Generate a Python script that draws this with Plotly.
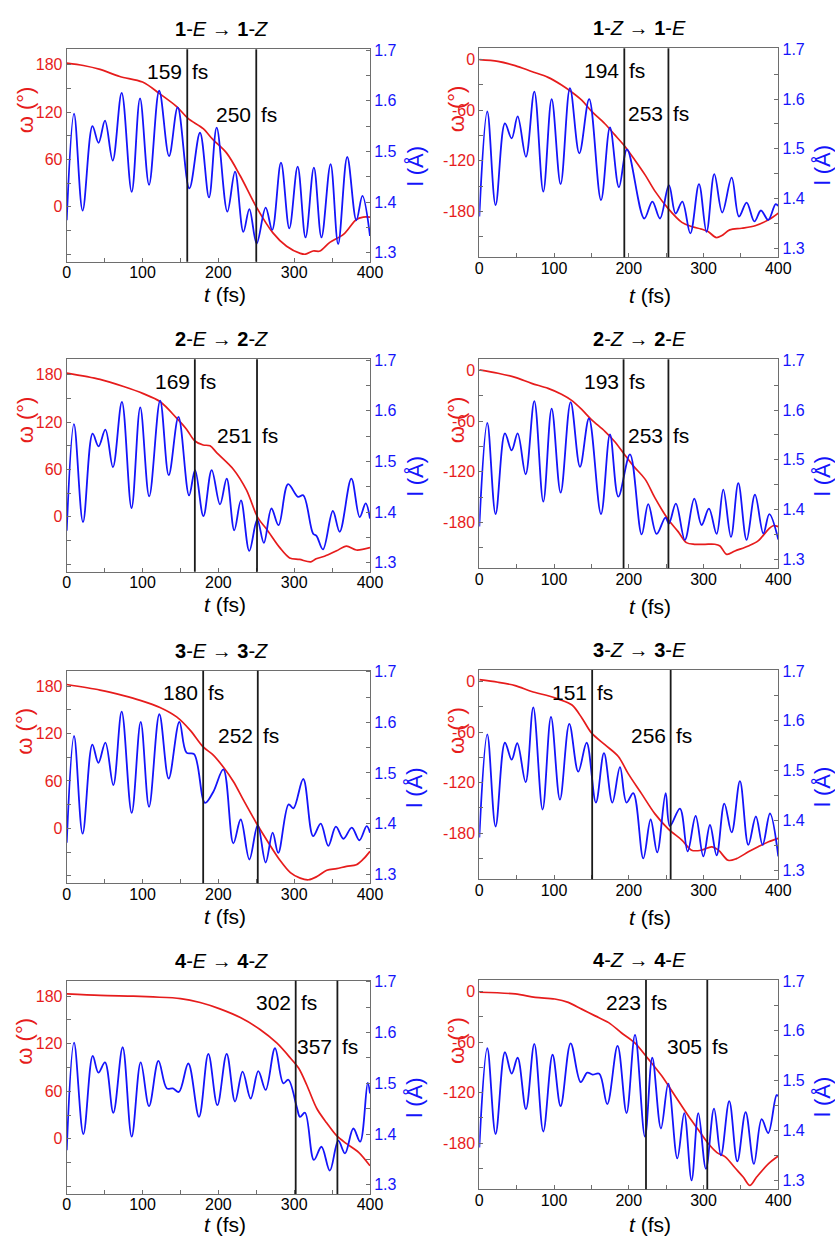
import plotly.graph_objects as go

# ---------------- data ----------------
titles = [
    "<b>1</b>-<i>E</i> → <b>1</b>-<i>Z</i>", "<b>1</b>-<i>Z</i> → <b>1</b>-<i>E</i>",
    "<b>2</b>-<i>E</i> → <b>2</b>-<i>Z</i>", "<b>2</b>-<i>Z</i> → <b>2</b>-<i>E</i>",
    "<b>3</b>-<i>E</i> → <b>3</b>-<i>Z</i>", "<b>3</b>-<i>Z</i> → <b>3</b>-<i>E</i>",
    "<b>4</b>-<i>E</i> → <b>4</b>-<i>Z</i>", "<b>4</b>-<i>Z</i> → <b>4</b>-<i>E</i>",
]
first_times = [159, 194, 169, 193, 180, 151, 302, 223]
second_times = [250, 253, 251, 253, 252, 256, 357, 305]

# omega (deg) vs t (fs)
p1_omega = [(0, 182), (22, 179), (44, 174), (70, 165), (100, 158), (123, 143), (145, 127), (160, 112),
            (180, 99), (193, 85), (211, 68), (229, 39), (250, 0), (272, -33), (290, -50), (308, -59),
            (315, -60), (325, -56), (334, -56), (347, -45), (365, -35), (382, -16), (391, -13), (400, -13)]
p2_omega = [(0, 0), (25, -2), (48, -7), (70, -14), (92, -21), (110, -30), (123, -38), (137, -48),
            (150, -61), (168, -76), (181, -89), (193, -101), (208, -119), (222, -137), (235, -156),
            (253, -177), (271, -193), (284, -198), (297, -201), (306, -204), (317, -211), (324, -209),
            (335, -202), (351, -200), (369, -197), (387, -190), (400, -182)]
p3_omega = [(0, 182), (44, 174), (75, 165), (101, 156), (123, 146), (145, 125), (158, 111), (169, 96),
            (180, 91), (189, 90), (198, 81), (220, 60), (237, 34), (252, -1), (264, -16), (281, -39),
            (294, -52), (307, -54), (322, -57), (329, -53), (340, -50), (356, -43), (369, -37),
            (382, -42), (400, -39)]
p4_omega = [(0, 1), (25, -3), (48, -8), (70, -15), (92, -21), (110, -28), (123, -35), (137, -46),
            (150, -58), (168, -72), (181, -84), (193, -98), (206, -113), (222, -129), (235, -151),
            (253, -177), (266, -191), (277, -204), (288, -206), (302, -206), (315, -206), (322, -208),
            (331, -218), (342, -214), (360, -208), (373, -202), (387, -188), (393, -184), (400, -185)]
p5_omega = [(0, 182), (44, 175), (75, 168), (97, 162), (123, 153), (145, 141), (163, 124), (180, 103),
            (193, 93), (207, 77), (220, 59), (233, 36), (253, 2), (264, -15), (281, -40), (295, -56),
            (308, -63), (319, -65), (330, -61), (343, -53), (356, -51), (369, -48), (382, -46),
            (391, -39), (400, -29)]
p6_omega = [(0, 2), (25, -1), (48, -5), (70, -12), (92, -17), (106, -21), (124, -28), (137, -43),
            (150, -61), (168, -75), (186, -89), (199, -109), (217, -133), (235, -157), (253, -175),
            (271, -188), (284, -200), (297, -200), (311, -196), (320, -200), (333, -212), (344, -210),
            (360, -202), (373, -196), (387, -190), (400, -186)]
p7_omega = [(0, 183), (44, 181), (88, 180), (114, 179), (150, 177), (176, 172), (202, 164), (229, 153),
            (255, 138), (277, 121), (295, 102), (306, 89), (317, 67), (330, 38), (343, 20), (356, 4),
            (369, -6), (385, -17), (400, -34)]
p8_omega = [(0, -1), (48, -3), (75, -7), (101, -9), (119, -13), (137, -21), (155, -29), (173, -37),
            (190, -49), (208, -61), (226, -80), (244, -100), (262, -124), (280, -148), (293, -164),
            (306, -180), (318, -191), (329, -196), (342, -209), (353, -220), (362, -230), (371, -220),
            (387, -204), (400, -195)]

# bond length l (Angstrom) vs t (fs)
p1_l = [(0, 1.364), (9.7, 1.575), (21, 1.383), (34, 1.55), (42, 1.517), (50.5, 1.561), (60.7, 1.482),
        (72.5, 1.616), (85.7, 1.420), (96.7, 1.605), (108.6, 1.434), (122, 1.620), (135, 1.491),
        (146.4, 1.587), (161.8, 1.427), (175.8, 1.537), (187.7, 1.409), (197.8, 1.547), (211.9, 1.381),
        (222, 1.46), (233, 1.341), (240.9, 1.386), (250.5, 1.318), (262.4, 1.389), (271, 1.345),
        (282.6, 1.478), (293.6, 1.348), (304.6, 1.47), (315, 1.330), (326, 1.468), (336, 1.330),
        (348, 1.475), (358, 1.317), (370, 1.489), (382, 1.364), (390, 1.412), (400, 1.333)]
p2_l = [(0, 1.364), (10.7, 1.575), (21.8, 1.387), (34.3, 1.551), (43.3, 1.521), (51.3, 1.565),
        (62.4, 1.484), (73.6, 1.615), (85.6, 1.414), (96.8, 1.600), (108.8, 1.429), (121.3, 1.622),
        (133.8, 1.491), (147, 1.600), (162.8, 1.397), (174.8, 1.543), (186.8, 1.423), (197.6, 1.499),
        (220.7, 1.360), (231.5, 1.394), (241.7, 1.360), (253.7, 1.427), (262.6, 1.370), (271.6, 1.394),
        (282.3, 1.330), (293.9, 1.429), (304, 1.333), (314.4, 1.449), (325, 1.372), (337.6, 1.442),
        (347.4, 1.364), (357.6, 1.392), (368, 1.354), (376.8, 1.376), (386.6, 1.357), (396.4, 1.389),
        (400, 1.385)]
p3_l = [(0, 1.363), (9.6, 1.574), (21.5, 1.380), (34.2, 1.555), (42, 1.530), (51, 1.563), (61, 1.489),
        (72.8, 1.618), (85.5, 1.408), (97, 1.607), (108.8, 1.431), (123.2, 1.620), (134.6, 1.473),
        (147.4, 1.588), (161.4, 1.433), (169.3, 1.483), (180.3, 1.392), (191.2, 1.483), (202.2, 1.415),
        (211, 1.466), (221, 1.364), (229.8, 1.423), (240.8, 1.323), (251.3, 1.385), (260, 1.339),
        (270, 1.407), (279.4, 1.374), (292, 1.455), (305, 1.430), (312, 1.433), (325, 1.357),
        (329.4, 1.353), (338, 1.326), (351, 1.402), (360, 1.361), (375.4, 1.466), (386.4, 1.390),
        (394.3, 1.417), (400, 1.387)]
p4_l = [(0, 1.366), (10.7, 1.574), (21.8, 1.391), (34.3, 1.553), (43.3, 1.519), (51.3, 1.553),
        (62, 1.471), (73.6, 1.618), (85.6, 1.416), (96.8, 1.603), (108.8, 1.434), (122.2, 1.616),
        (134.7, 1.486), (146.7, 1.583), (162.8, 1.391), (174.8, 1.551), (186, 1.426), (201.6, 1.511),
        (217.2, 1.350), (226, 1.411), (237.2, 1.351), (249, 1.384), (253.7, 1.372), (263, 1.412),
        (275, 1.339), (287.6, 1.422), (297.4, 1.369), (307.2, 1.402), (317.5, 1.351), (326.4, 1.440),
        (336.7, 1.345), (346.5, 1.453), (357.6, 1.339), (368.8, 1.430), (380, 1.352), (388, 1.391),
        (400, 1.340)]
p5_l = [(0, 1.362), (9.7, 1.573), (21, 1.380), (33.8, 1.556), (41.8, 1.520), (51, 1.560), (61.5, 1.476),
        (72.5, 1.621), (85.7, 1.421), (97.6, 1.601), (108.6, 1.433), (122.2, 1.616), (134.5, 1.489),
        (148.6, 1.601), (158, 1.540), (168, 1.537), (182.4, 1.441), (193.4, 1.463), (206.6, 1.507),
        (219.8, 1.361), (229.5, 1.408), (240.9, 1.329), (251.9, 1.397), (262.4, 1.323), (271.6, 1.382),
        (279, 1.342), (292.7, 1.438), (299, 1.430), (312, 1.488), (325, 1.375), (335, 1.400),
        (345, 1.356), (355, 1.394), (365, 1.370), (376, 1.392), (386, 1.367), (395.6, 1.395),
        (400, 1.382)]
p6_l = [(0, 1.366), (10.7, 1.573), (21.8, 1.388), (34.3, 1.556), (43.3, 1.522), (50.8, 1.555),
        (62, 1.477), (72.2, 1.627), (84.7, 1.422), (95.9, 1.608), (107.9, 1.442), (120.4, 1.594),
        (132.4, 1.498), (143.6, 1.556), (156, 1.436), (166.8, 1.535), (178, 1.436), (188.2, 1.507),
        (197, 1.436), (206, 1.455), (219.4, 1.324), (229.2, 1.402), (238, 1.336), (249.3, 1.455),
        (255, 1.389), (268.4, 1.424), (278.7, 1.338), (289.4, 1.409), (299.7, 1.328), (308.6, 1.391),
        (317.5, 1.330), (327.8, 1.434), (337.6, 1.376), (348.7, 1.479), (359.9, 1.351), (370, 1.408),
        (379, 1.351), (388.9, 1.414), (400, 1.328)]
p7_l = [(0, 1.368), (9.7, 1.580), (22, 1.400), (34.3, 1.554), (41.8, 1.521), (50.5, 1.541),
        (61.5, 1.442), (73.8, 1.571), (85.7, 1.395), (97.6, 1.541), (108.6, 1.455), (121, 1.544),
        (132, 1.490), (140, 1.490), (148, 1.483), (160.4, 1.539), (174.5, 1.434), (186.8, 1.558),
        (198.7, 1.457), (211, 1.558), (222, 1.464), (232, 1.523), (242.6, 1.470), (252.7, 1.524),
        (262.4, 1.487), (274.7, 1.569), (285.7, 1.500), (292.3, 1.507), (303.3, 1.454), (307.7, 1.434),
        (314.3, 1.442), (326, 1.349), (336, 1.375), (347, 1.328), (358.2, 1.387), (367, 1.362),
        (378, 1.411), (387, 1.385), (397, 1.501), (400, 1.480)]
p8_l = [(0, 1.366), (10.7, 1.565), (21.8, 1.393), (34.3, 1.557), (43.3, 1.514), (51.3, 1.546),
        (62.4, 1.443), (73.6, 1.574), (85.6, 1.398), (98, 1.552), (108.8, 1.449), (122.2, 1.575),
        (135.6, 1.497), (144.5, 1.516), (151.6, 1.512), (160.5, 1.514), (171.2, 1.453), (185, 1.570),
        (197, 1.435), (208.3, 1.592), (221.6, 1.388), (231.4, 1.546), (243, 1.404), (252.8, 1.494),
        (264.9, 1.344), (274.2, 1.435), (284, 1.300), (293, 1.435), (303.2, 1.323), (314, 1.444),
        (323.3, 1.350), (334.4, 1.459), (345.2, 1.338), (356.3, 1.437), (367.4, 1.333), (377.7, 1.423),
        (386.6, 1.395), (397.7, 1.471), (400, 1.469)]

omega_series = [p1_omega, p2_omega, p3_omega, p4_omega, p5_omega, p6_omega, p7_omega, p8_omega]
l_series = [p1_l, p2_l, p3_l, p4_l, p5_l, p6_l, p7_l, p8_l]

x_ticks = [0, 100, 200, 300, 400]
omega_ticks_left = [0, 60, 120, 180]
omega_ticks_right = [-180, -120, -60, 0]
l_ticks = [1.3, 1.4, 1.5, 1.6, 1.7]

# ---------------- layout geometry (pixels) ----------------
W, H = 835, 1237
col_x = [(66.7, 370.0), (479.3, 778.3)]
row_y = [[(49.3, 261.7), (48.3, 257.3)],
         [(359.3, 571.7), (359.3, 568.3)],
         [(670.7, 883.3), (670.0, 879.3)],
         [(980.7, 1194.0), (980.0, 1189.3)]]
omega_range = [(-69.5, 199.5), (-234.5, 13.5)]
l_range = (1.282, 1.702)
title_cx = [222, 639]
tlabel_cx = [225, 650]
tlabel_dy = [33, 38]
omega_lab_x = [25, 456]
l_lab_x = [415, 822]
second_label_dy = [65, 65, 76, 76, 65, 65, 66, 66]

RED = "rgb(230,28,28)"
BLUE = "rgb(20,20,250)"
AX = "#6e6e6e"
FONT = "Liberation Sans, Arial, Helvetica, sans-serif"

fig = go.Figure()
annotations = []
shapes = []
layout = {}

for k in range(8):
    r, c = divmod(k, 2)
    x0, x1 = col_x[c]
    top, bot = row_y[r][c]
    xn = "" if k == 0 else str(k + 1)
    ya_i, yb_i = 2 * k + 1, 2 * k + 2
    yan = "" if ya_i == 1 else str(ya_i)
    ybn = str(yb_i)
    xref, yaref, ybref = "x" + xn, "y" + yan, "y" + ybn

    ot = [p[0] for p in omega_series[k]]
    ov = [p[1] for p in omega_series[k]]
    lt = [p[0] for p in l_series[k]]
    lv = [p[1] for p in l_series[k]]

    fig.add_trace(go.Scatter(x=ot, y=ov, xaxis=xref, yaxis=yaref, mode="lines",
                             line=dict(color=RED, width=1.7, shape="spline", smoothing=0.9),
                             showlegend=False, hoverinfo="skip"))
    fig.add_trace(go.Scatter(x=lt, y=lv, xaxis=xref, yaxis=ybref, mode="lines",
                             line=dict(color=BLUE, width=1.8, shape="spline", smoothing=1.0),
                             showlegend=False, hoverinfo="skip"))

    dom_y = [1 - bot / H, 1 - top / H]
    layout["xaxis" + xn] = dict(
        domain=[x0 / W, x1 / W], anchor=yaref, range=[0, 400], automargin=False,
        tickmode="array", tickvals=x_ticks, ticktext=[str(v) for v in x_ticks],
        ticks="inside", ticklen=4, tickcolor=AX, tickwidth=1, ticklabelstandoff=-4,
        minor=dict(tickmode="array", tickvals=[50, 150, 250, 350], ticks="inside", ticklen=4, tickcolor=AX),
        showline=True, linecolor=AX, linewidth=1, mirror=True,
        showgrid=False, zeroline=False,
        tickfont=dict(family=FONT, size=16, color="black"))
    if c == 0:
        otv = omega_ticks_left
        ominor = [-60, -30, 30, 90, 150]
    else:
        otv = omega_ticks_right
        ominor = [-210, -150, -90, -30]
    layout["yaxis" + yan] = dict(
        domain=dom_y, anchor=xref, range=list(omega_range[c]), automargin=False,
        tickmode="array", tickvals=otv, ticktext=[str(v) for v in otv],
        ticks="inside", ticklen=4, tickcolor=AX,
        minor=dict(tickmode="array", tickvals=ominor, ticks="inside", ticklen=4, tickcolor=AX),
        showline=True, linecolor=AX, linewidth=1,
        showgrid=False, zeroline=False,
        tickfont=dict(family=FONT, size=16, color=RED))
    layout["yaxis" + ybn] = dict(
        overlaying=yaref, side="right", anchor=xref, range=list(l_range), automargin=False,
        tickmode="array", tickvals=l_ticks, ticktext=["%.1f" % v for v in l_ticks],
        ticks="inside", ticklen=4, tickcolor=AX,
        minor=dict(tickmode="array", tickvals=[1.35, 1.45, 1.55, 1.65], ticks="inside", ticklen=4, tickcolor=AX),
        showline=True, linecolor=AX, linewidth=1,
        showgrid=False, zeroline=False,
        tickfont=dict(family=FONT, size=16, color=BLUE))

    # vertical marker lines and their labels
    for j, tv in enumerate([first_times[k], second_times[k]]):
        shapes.append(dict(type="line", xref=xref, yref=yaref + " domain", x0=tv, x1=tv, y0=0, y1=1,
                           line=dict(color="#1a1a1a", width=1.8), layer="above"))
        dy = 22 if j == 0 else second_label_dy[k]
        annotations.append(dict(xref=xref, yref=yaref + " domain", x=tv, y=1, yshift=-dy,
                                xanchor="right", yanchor="middle", xshift=-3, showarrow=False,
                                text=str(tv), font=dict(family=FONT, size=21, color="black")))
        annotations.append(dict(xref=xref, yref=yaref + " domain", x=tv, y=1, yshift=-dy,
                                xanchor="left", yanchor="middle", xshift=3, showarrow=False,
                                text="fs", font=dict(family=FONT, size=21, color="black")))

    # panel title
    annotations.append(dict(xref="paper", yref="paper", x=title_cx[c] / W, y=1 - (top - 20) / H,
                            xanchor="center", yanchor="middle", showarrow=False, text=titles[k],
                            font=dict(family=FONT, size=20, color="black")))
    # x axis title
    tdy = tlabel_dy[c] - (3 if r == 3 else 0)
    annotations.append(dict(xref="paper", yref="paper", x=tlabel_cx[c] / W, y=1 - (bot + tdy) / H,
                            xanchor="center", yanchor="middle", showarrow=False, text="<i>t</i> (fs)",
                            font=dict(family=FONT, size=21, color="black")))
    # y axis titles
    annotations.append(dict(xref="paper", yref="paper", x=omega_lab_x[c] / W, y=1 - (top + 61) / H,
                            xanchor="center", yanchor="middle", showarrow=False, text="ω (°)",
                            textangle=-90, font=dict(family=FONT, size=22, color=RED)))
    annotations.append(dict(xref="paper", yref="paper", x=l_lab_x[c] / W, y=1 - (top + 117) / H,
                            xanchor="center", yanchor="middle", showarrow=False, text="l (Å)",
                            textangle=-90, font=dict(family=FONT, size=22, color=BLUE)))

fig.update_layout(width=W, height=H, margin=dict(l=0, r=0, t=0, b=0, autoexpand=False),
                  paper_bgcolor="white", plot_bgcolor="white",
                  font=dict(family=FONT), annotations=annotations, shapes=shapes, **layout)

fig.write_html("out.html", config={"displayModeBar": False},
               post_script="document.body.style.margin='0';document.body.style.padding='0';"
                           "document.body.style.overflow='hidden';")
